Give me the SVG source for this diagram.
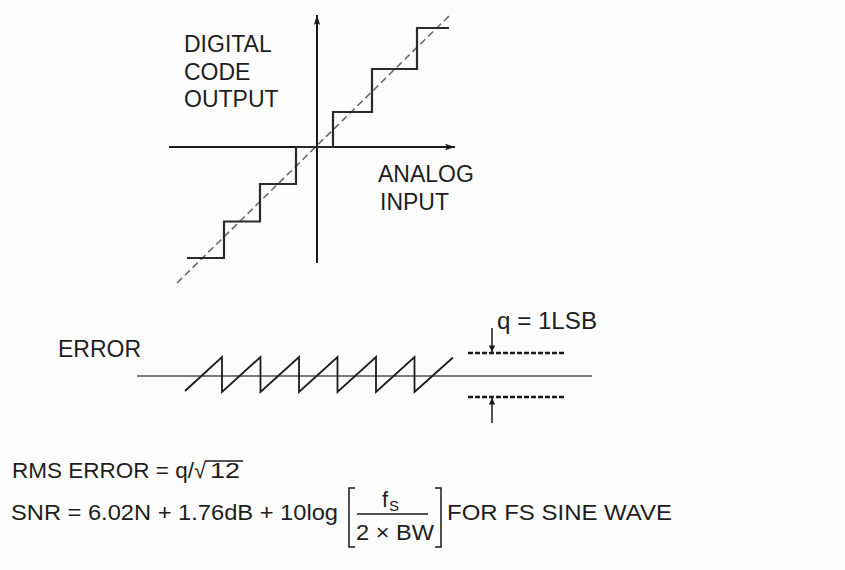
<svg xmlns="http://www.w3.org/2000/svg" width="845" height="570" viewBox="0 0 845 570">
  <defs>
    <style>
      .t { font-family: "Liberation Sans", Arial, sans-serif; font-size: 23px; fill: #1e1e1e; }
      .b { font-family: "Liberation Sans", Arial, sans-serif; font-size: 22px; fill: #1e1e1e; }
      .axis { stroke: #1a1a1a; stroke-width: 2; fill: none; }
      .stair { stroke: #2a2a2a; stroke-width: 2.2; fill: none; stroke-linejoin: miter; }
      .diag { stroke: #6a6a6a; stroke-width: 1.6; fill: none; stroke-dasharray: 7 4; }
      .base { stroke: #7a7a7a; stroke-width: 2.2; fill: none; }
      .saw { stroke: #1a1a1a; stroke-width: 1.8; fill: none; stroke-linejoin: miter; }
      .lvl { stroke: #1a1a1a; stroke-width: 2.4; fill: none; stroke-dasharray: 5 2; }
      .thin { stroke: #1a1a1a; stroke-width: 1.5; fill: none; }
    </style>
    <marker id="ah" viewBox="0 0 10 8" refX="10" refY="4" markerWidth="10" markerHeight="8" markerUnits="userSpaceOnUse" orient="auto">
      <path d="M0,0.8 L10,4 L0,7.2 L2,4 Z" fill="#1a1a1a"/>
    </marker>
    <marker id="qh" viewBox="0 0 8 10" refX="8" refY="4" markerWidth="10" markerHeight="8" markerUnits="userSpaceOnUse" orient="auto">
      <path d="M0,0 L8,4 L0,8 Z" fill="#1a1a1a"/>
    </marker>
  </defs>
  <rect width="845" height="570" fill="#fdfdfd"/>

  <g id="transfer-plot">
    <line class="axis" x1="317" y1="263" x2="317" y2="15" marker-end="url(#ah)"/>
    <line class="axis" x1="169" y1="147" x2="455" y2="147" marker-end="url(#ah)"/>
    <line class="diag" x1="177" y1="283" x2="450" y2="15"/>
    <path class="stair" d="M187,258 H224 V221.5 H260 V184 H296 V147 H333 V112 H372 V69 H417 V28 H449"/>
  </g>

  <g id="labels">
    <text class="t" x="184" y="52">DIGITAL</text>
    <text class="t" x="184" y="80">CODE</text>
    <text class="t" x="184" y="107">OUTPUT</text>
    <text class="t" x="378" y="182">ANALOG</text>
    <text class="t" x="380" y="210">INPUT</text>
  </g>

  <g id="error-plot">
    <text class="t" x="58" y="357">ERROR</text>
    <line class="base" x1="137" y1="376" x2="592" y2="376"/>
    <path class="saw" d="M185,391 L222,357 V392 L260.5,357 V392 L299,357 V392 L337.5,357 V392 L376,357 V392 L414.5,357 V392 L453,357.5"/>
    <line class="lvl" x1="468" y1="353" x2="565" y2="353"/>
    <line class="lvl" x1="468" y1="397" x2="565" y2="397"/>
    <line class="thin" x1="492" y1="328" x2="492" y2="352" marker-end="url(#qh)"/>
    <line class="thin" x1="492" y1="423" x2="492" y2="398" marker-end="url(#qh)"/>
    <text class="t" x="497" y="329" textLength="100" lengthAdjust="spacingAndGlyphs">q = 1LSB</text>
  </g>

  <g id="formulas">
    <text class="b" x="12" y="478" textLength="182" lengthAdjust="spacingAndGlyphs">RMS ERROR = q/</text>
    <text class="b" x="194" y="478">√</text>
    <text class="b" x="210" y="478" textLength="30" lengthAdjust="spacingAndGlyphs">12</text>
    <line class="thin" x1="205" y1="461" x2="243" y2="461"/>

    <text class="b" x="11" y="520" textLength="327" lengthAdjust="spacingAndGlyphs">SNR = 6.02N + 1.76dB + 10log</text>
    <path class="thin" d="M355,488 H349 V547 H355"/>
    <path class="thin" d="M435,488 H441 V547 H435"/>
    <text class="b" x="382" y="507">f</text>
    <text class="b" x="389" y="511" style="font-size:15px">S</text>
    <line class="thin" x1="357" y1="514" x2="428" y2="514"/>
    <text class="b" x="356" y="540" textLength="78" lengthAdjust="spacingAndGlyphs">2 × BW</text>
    <text class="b" x="447" y="520" textLength="225" lengthAdjust="spacingAndGlyphs">FOR FS SINE WAVE</text>
  </g>
</svg>
